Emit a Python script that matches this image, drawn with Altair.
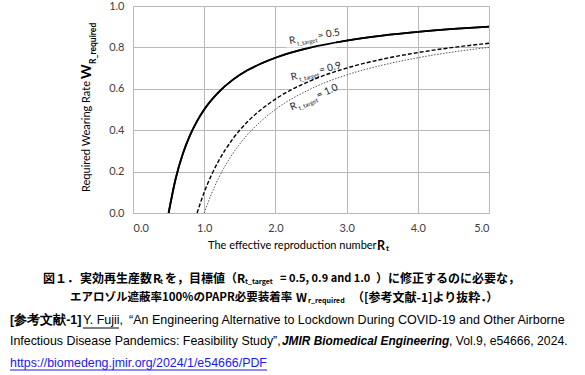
import altair as alt
import pandas as pd

# ---- data ----
rt_05 = [0.5, 0.6, 0.7, 0.8, 0.9, 1.0, 1.2, 1.4, 1.6, 1.8, 2.0, 2.5, 3.0, 3.5, 4.0, 4.5, 5.0]
w_05 = [0.0, 0.167, 0.286, 0.375, 0.444, 0.5, 0.583, 0.643, 0.688, 0.722, 0.75, 0.8, 0.833, 0.857, 0.875, 0.889, 0.9]
rt_09 = [0.9, 1.0, 1.1, 1.2, 1.4, 1.6, 1.8, 2.0, 2.5, 3.0, 3.5, 4.0, 4.5, 5.0]
w_09 = [0.0, 0.1, 0.182, 0.25, 0.357, 0.438, 0.5, 0.55, 0.64, 0.7, 0.743, 0.775, 0.8, 0.82]
rt_10 = [1.0, 1.1, 1.2, 1.4, 1.6, 1.8, 2.0, 2.5, 3.0, 3.5, 4.0, 4.5, 5.0]
w_10 = [0.0, 0.091, 0.167, 0.286, 0.375, 0.444, 0.5, 0.6, 0.667, 0.714, 0.75, 0.778, 0.8]

x_ticks = [0, 1, 2, 3, 4, 5]
y_ticks = [0.0, 0.1, 0.2, 0.3, 0.4, 0.5, 0.6, 0.7, 0.8, 0.9, 1.0]

label_values = ["= 0.5", "= 0.9", "= 1.0"]
label_x = [2.20, 2.23, 2.23]
label_y = [0.816, 0.640, 0.495]
label_angle = [350, 346, 336]

box_x = [2.15, 2.22, 2.22]
box_x2 = [2.85, 2.85, 2.80]
box_y = [0.80, 0.63, 0.49]
box_y2 = [0.89, 0.72, 0.60]

W, H = 356, 207
PL, PT = 133, 6

df05 = pd.DataFrame({"Rt": rt_05, "W": w_05})
df09 = pd.DataFrame({"Rt": rt_09, "W": w_09})
df10 = pd.DataFrame({"Rt": rt_10, "W": w_10})
labels = pd.DataFrame({"x": label_x, "y": label_y, "ang": label_angle, "v": label_values})
boxes = pd.DataFrame({"x": box_x, "x2": box_x2, "y": box_y, "y2": box_y2})

LF = "Lato"
xs = alt.Scale(domain=[0, 5], nice=False)
ys = alt.Scale(domain=[0, 1], nice=False)

x_enc = alt.X("Rt:Q", scale=xs, axis=alt.Axis(values=x_ticks, format=".1f", title=None, grid=True,
              gridColor="#b8b8b8", ticks=False, domain=False, labelFont=LF, labelFontSize=11,
              labelColor="#404040", labelPadding=9))
y_enc = alt.Y("W:Q", scale=ys, axis=alt.Axis(values=y_ticks, format=".1f", title=None, grid=True,
              gridColor="#b8b8b8", ticks=False, domain=False, labelFont=LF, labelFontSize=11,
              labelColor="#404040", labelPadding=9))

base05 = alt.Chart(df05).mark_line(color="black", strokeWidth=1.8, interpolate="monotone").encode(x=x_enc, y=y_enc)
line09 = alt.Chart(df09).mark_line(color="black", strokeWidth=1.4, strokeDash=[4, 2], interpolate="monotone").encode(x="Rt:Q", y="W:Q")
line10 = alt.Chart(df10).mark_line(color="#555555", strokeWidth=1.0, strokeDash=[1.5, 1.5], interpolate="monotone").encode(x="Rt:Q", y="W:Q")

rects = alt.Chart(boxes).mark_rect(color="white").encode(x="x:Q", x2="x2:Q", y="y:Q", y2="y2:Q")

lab_enc = dict(x=alt.X("x:Q"), y=alt.Y("y:Q"), angle=alt.Angle("ang:Q", scale=None))
labR = alt.Chart(labels).mark_text(font=LF, fontSize=10, color="#222", align="left", baseline="alphabetic").encode(text=alt.value("R"), **lab_enc)
labSub = alt.Chart(labels).mark_text(font=LF, fontSize=6, color="#222", align="left", baseline="alphabetic", dx=7.5, dy=3).encode(text=alt.value("t_target"), **lab_enc)
labV = alt.Chart(labels).mark_text(font=LF, fontSize=10, color="#222", align="left", baseline="alphabetic", dx=29).encode(text="v:N", **lab_enc)

one = pd.DataFrame({"a": [0]})

def txt(t, px, py, size, font=LF, weight="normal", style="normal", color="black", angle=0):
    kw = dict(font=font, fontSize=size, fontWeight=weight, fontStyle=style, color=color,
              align="left", baseline="middle", x=px - PL, y=py - PT)
    if angle:
        kw["angle"] = angle
    return alt.Chart(one).mark_text(**kw).encode(text=alt.value(t))

def rule(x1, x2, yy, color, w=1):
    return alt.Chart(one).mark_rule(color=color, strokeWidth=w).encode(
        x=alt.value(x1 - PL), x2=alt.value(x2 - PL), y=alt.value(yy - PT))

CJK = "Noto Sans CJK JP"
SANS = "Liberation Sans"

annots = [
    # axis titles
    txt("Required Wearing Rate", 87, 192, 11, angle=270),
    txt("W", 87, 79, 14, weight="bold", angle=270),
    txt("R_required", 93, 64, 8.5, weight="bold", angle=270),
    txt("The effective reproduction number", 208, 246, 11),
    txt("R", 377, 246, 12.5, weight="bold"),
    txt("t", 386, 249, 8, weight="bold"),
    # caption line 1
    txt("図１．", 43, 279, 12, font=CJK, weight="bold"),
    txt("実効再生産数", 80, 279, 12, font=CJK, weight="bold"),
    txt("R", 153, 279, 12, font=CJK, weight="bold"),
    txt("t", 160, 282, 7, font=CJK, weight="bold"),
    txt("を，目標値（", 165, 279, 12, font=CJK, weight="bold"),
    txt("R", 237, 279, 12, font=CJK, weight="bold"),
    txt("t_target", 245, 282, 7, font=CJK, weight="bold"),
    txt("= 0.5, 0.9 and 1.0", 280, 279, 11, font=CJK, weight="bold"),
    txt("）に修正するのに必要な，", 376, 279, 12, font=CJK, weight="bold"),
    # caption line 2
    txt("エアロゾル遮蔽率100%のPAPR必要装着率", 70, 298, 11.5, font=CJK, weight="bold"),
    txt("W", 296, 298, 12, font=CJK, weight="bold"),
    txt("r_required", 308, 301, 7, font=CJK, weight="bold"),
    txt("（[参考文献-1]より抜粋．）", 352, 298, 12, font=CJK, weight="bold"),
    # reference
    txt("[参考文献-1]", 10, 320, 12.5, font=SANS, weight="bold"),
    txt("Y. Fujii,", 83, 320, 12.5, font=SANS),
    txt("“An Engineering Alternative to Lockdown During COVID-19 and Other Airborne", 129, 320, 12.5, font=SANS),
    txt("Infectious Disease Pandemics: Feasibility Study”,", 10, 341, 12.4, font=SANS),
    txt("JMIR Biomedical Engineering", 282, 341, 11.9, font=SANS, weight="bold", style="italic"),
    txt(", Vol.9, e54666, 2024.", 449, 341, 12.2, font=SANS),
    txt("https://biomedeng.jmir.org/2024/1/e54666/PDF", 10, 363, 12.4, font=SANS, color="#1a1aee"),
    rule(83, 119, 328, "black"),
    rule(10, 267, 370, "#1a1aee"),
]

chart = alt.layer(base05, rects, line09, line10, base05, labR, labSub, labV, *annots).properties(
    width=W, height=H,
    autosize=alt.AutoSizeParams(type="none"),
    padding={"left": PL, "top": PT, "right": 585 - PL - W, "bottom": 375 - PT - H},
).configure_view(stroke="#a8a8a8", strokeWidth=1).configure(background="white")

chart.save("out.html", embed_options={"renderer": "svg", "actions": False})
